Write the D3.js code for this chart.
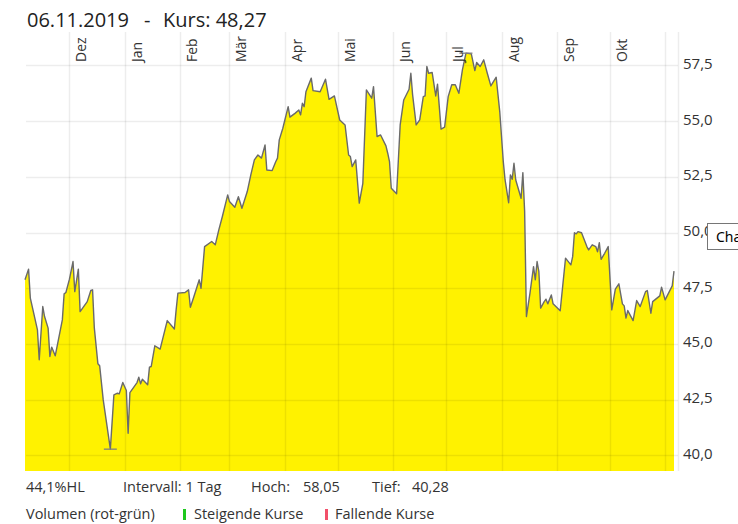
<!DOCTYPE html>
<html><head><meta charset="utf-8">
<script src="https://cdn.jsdelivr.net/npm/d3@7"></script>
<style>body{margin:0;background:#fff;} svg{display:block;font-family:"Open Sans",sans-serif;}</style>
</head><body><svg id="c" width="738" height="524"></svg>
<script>
const dates = ["2018-11-06","2018-11-08","2018-11-09","2018-11-13","2018-11-14","2018-11-16","2018-11-17","2018-11-19","2018-11-20","2018-11-21","2018-11-23","2018-11-27","2018-11-28","2018-11-29","2018-12-01","2018-12-03","2018-12-04","2018-12-06","2018-12-07","2018-12-11","2018-12-13","2018-12-14","2018-12-15","2018-12-17","2018-12-18","2018-12-20","2018-12-24","2018-12-26","2018-12-28","2018-12-29","2018-12-31","2019-01-02","2019-01-03","2019-01-04","2019-01-08","2019-01-09","2019-01-10","2019-01-11","2019-01-14","2019-01-15","2019-01-16","2019-01-18","2019-01-21","2019-01-23","2019-01-25","2019-01-29","2019-01-30","2019-01-31","2019-02-04","2019-02-06","2019-02-07","2019-02-09","2019-02-12","2019-02-13","2019-02-15","2019-02-19","2019-02-21","2019-02-23","2019-02-25","2019-02-28","2019-03-01","2019-03-04","2019-03-06","2019-03-08","2019-03-11","2019-03-13","2019-03-15","2019-03-17","2019-03-19","2019-03-21","2019-03-22","2019-03-25","2019-03-27","2019-03-28","2019-03-29","2019-03-31","2019-04-03","2019-04-04","2019-04-07","2019-04-09","2019-04-10","2019-04-11","2019-04-12","2019-04-13","2019-04-16","2019-04-17","2019-04-21","2019-04-24","2019-04-26","2019-04-29","2019-05-02","2019-05-05","2019-05-07","2019-05-08","2019-05-09","2019-05-11","2019-05-13","2019-05-15","2019-05-17","2019-05-20","2019-05-21","2019-05-23","2019-05-25","2019-05-28","2019-05-29","2019-05-30","2019-05-31","2019-06-03","2019-06-05","2019-06-07","2019-06-10","2019-06-11","2019-06-12","2019-06-14","2019-06-16","2019-06-18","2019-06-19","2019-06-20","2019-06-21","2019-06-23","2019-06-25","2019-06-26","2019-06-28","2019-06-30","2019-07-02","2019-07-04","2019-07-06","2019-07-08","2019-07-10","2019-07-12","2019-07-15","2019-07-17","2019-07-18","2019-07-20","2019-07-22","2019-07-24","2019-07-26","2019-07-29","2019-07-31","2019-08-02","2019-08-03","2019-08-05","2019-08-06","2019-08-07","2019-08-08","2019-08-09","2019-08-12","2019-08-13","2019-08-14","2019-08-15","2019-08-17","2019-08-19","2019-08-20","2019-08-21","2019-08-22","2019-08-23","2019-08-25","2019-08-26","2019-08-27","2019-08-29","2019-08-30","2019-09-03","2019-09-06","2019-09-09","2019-09-10","2019-09-11","2019-09-12","2019-09-13","2019-09-15","2019-09-18","2019-09-19","2019-09-21","2019-09-23","2019-09-24","2019-09-25","2019-09-26","2019-09-28","2019-09-30","2019-10-02","2019-10-04","2019-10-06","2019-10-08","2019-10-09","2019-10-10","2019-10-11","2019-10-14","2019-10-16","2019-10-18","2019-10-21","2019-10-22","2019-10-24","2019-10-25","2019-10-29","2019-10-30","2019-11-01","2019-11-05","2019-11-06"];
const values = [47.88,48.36,47.06,45.63,44.29,46.68,46.23,45.71,44.44,44.86,44.47,46.08,47.25,47.31,47.91,48.70,47.35,48.36,46.45,46.90,47.40,47.43,45.71,44.11,44.02,42.49,40.28,42.72,42.79,42.76,43.27,42.91,40.99,42.82,43.27,43.51,43.21,43.42,43.17,43.96,43.99,44.92,44.77,45.41,46.05,45.67,46.53,47.28,47.31,47.43,46.65,47.13,47.88,47.50,49.37,49.60,49.45,50.12,50.72,51.69,51.39,51.14,51.61,51.09,51.84,52.59,53.26,53.48,53.34,53.93,52.81,52.78,53.18,53.34,54.16,54.68,55.65,55.18,55.36,55.50,55.28,55.80,55.65,56.32,56.93,56.37,56.32,56.88,55.98,56.13,55.05,54.83,53.48,53.41,52.96,53.26,51.32,52.21,56.40,56.03,56.55,54.31,54.38,53.89,53.56,53.18,51.99,51.74,54.83,55.95,56.43,57.15,56.18,54.83,55.06,56.10,56.13,57.45,57.15,57.18,56.13,56.66,54.64,54.73,56.10,56.63,56.63,56.25,57.30,58.05,58.02,57.27,57.63,57.45,57.75,57.15,56.58,56.97,55.43,53.18,52.36,51.34,52.59,52.39,53.11,52.36,51.54,52.69,50.94,46.23,47.28,48.47,47.88,48.70,48.25,46.61,46.90,47.01,46.80,47.20,46.80,46.49,48.85,48.55,48.92,49.99,49.94,50.04,49.99,49.37,49.22,49.45,49.37,49.14,49.55,48.80,49.07,49.37,46.53,47.46,47.70,46.80,46.71,46.16,46.50,46.05,46.95,46.68,47.35,47.40,46.38,46.90,47.16,47.55,46.98,47.61,48.27];
const yTicks = [40, 42.5, 45, 47.5, 50, 52.5, 55, 57.5];
const monthLabels = ["Dez","Jan","Feb","Mär","Apr","Mai","Jun","Jul","Aug","Sep","Okt"];
const titleDate = "06.11.2019";
const titleKurs = "Kurs: 48,27";
const statLabels = ["44,1%HL", "Intervall: 1 Tag", "Hoch:", "58,05", "Tief:", "40,28"];
const legendLabels = ["Volumen (rot-grün)", "Steigende Kurse", "Fallende Kurse"];
const tooltipText = "Cha";

(function () {
const parse = d3.timeParse("%Y-%m-%d");
const data = dates.map((d, i) => ({date: parse(d), v: values[i]}));

const svg = d3.select("#c");
const pLeft = 26, pRight = 678, pTop = 32, pBottom = 471;

const x = d3.scaleTime().domain([parse("2018-11-06"), parse("2019-11-06")]).range([25, 674]);
const y = d3.scaleLinear().domain([39.3, 59.0]).range([pBottom, pTop]);
const fmt = v => d3.format(".1f")(v).replace(".", ",");

const area = d3.area().x(d => x(d.date)).y0(y(39.3)).y1(d => y(d.v));
const line = d3.line().x(d => x(d.date)).y(d => y(d.v));
svg.append("path").datum(data).attr("d", area).attr("fill", "#fff200");

const grid = svg.append("g").attr("stroke", "rgba(0,0,0,0.07)").attr("stroke-width", 1.5);
grid.selectAll("line.h").data(yTicks).join("line")
  .attr("x1", pLeft).attr("x2", pRight).attr("y1", d => Math.round(y(d)) + 0.5).attr("y2", d => Math.round(y(d)) + 0.5);
const months = d3.timeMonth.range(parse("2018-12-01"), parse("2019-11-02"));
grid.selectAll("line.v").data(months).join("line")
  .attr("x1", d => Math.round(x(d)) + 0.5).attr("x2", d => Math.round(x(d)) + 0.5).attr("y1", pTop).attr("y2", pBottom);
grid.append("line").attr("x1", pRight + 0.5).attr("x2", pRight + 0.5).attr("y1", pTop).attr("y2", pBottom);

svg.append("path").datum(data).attr("d", line).attr("fill", "none")
  .attr("stroke", "#6a6a6a").attr("stroke-width", 1.4).attr("stroke-linejoin", "round");

const hi = data.reduce((a, b) => b.v > a.v ? b : a);
const lo = data.reduce((a, b) => b.v < a.v ? b : a);
[hi, lo].forEach(p => {
  svg.append("line").attr("x1", x(p.date) - 6.5).attr("x2", x(p.date) + 6.5)
    .attr("y1", y(p.v)).attr("y2", y(p.v)).attr("stroke", "#808080").attr("stroke-width", 1.3);
});

svg.append("g").selectAll("text").data(monthLabels).join("text")
  .attr("transform", (d, i) => `translate(${x(months[i]) + 17},62) rotate(-90)`)
  .attr("font-size", 14).attr("fill", "#333").text(d => d);

svg.append("g").selectAll("text").data(yTicks).join("text")
  .attr("x", 683).attr("y", d => y(d) + 3.5).attr("font-size", 15).attr("fill", "#333").text(d => fmt(d));

const t = svg.append("text").attr("y", 27).attr("font-size", 20).attr("fill", "#222");
t.append("tspan").attr("x", 27).text(titleDate);
t.append("tspan").attr("x", 144).text("-");
t.append("tspan").attr("x", 163).text(titleKurs);

const statX = [26, 123, 251, 303, 372, 412];
svg.append("g").selectAll("text").data(statLabels).join("text")
  .attr("x", (d, i) => statX[i]).attr("y", 492).attr("font-size", 14.5).attr("fill", "#333").text(d => d);

const legX = [26, 194, 335];
svg.append("g").selectAll("text").data(legendLabels).join("text")
  .attr("x", (d, i) => legX[i]).attr("y", 519).attr("font-size", 14.5).attr("fill", "#333").text(d => d);
svg.append("rect").attr("x", 183).attr("y", 509).attr("width", 3).attr("height", 11).attr("fill", "#1ec81e");
svg.append("rect").attr("x", 325).attr("y", 509).attr("width", 3).attr("height", 11).attr("fill", "#f2506a");

svg.append("rect").attr("x", 707.5).attr("y", 223.5).attr("width", 40).attr("height", 26)
  .attr("fill", "#fff").attr("stroke", "#767676");
svg.append("text").attr("x", 716).attr("y", 242).attr("font-size", 14)
  .attr("font-family", "'Noto Sans', sans-serif").attr("fill", "#000").text(tooltipText);
})();
</script></body></html>
